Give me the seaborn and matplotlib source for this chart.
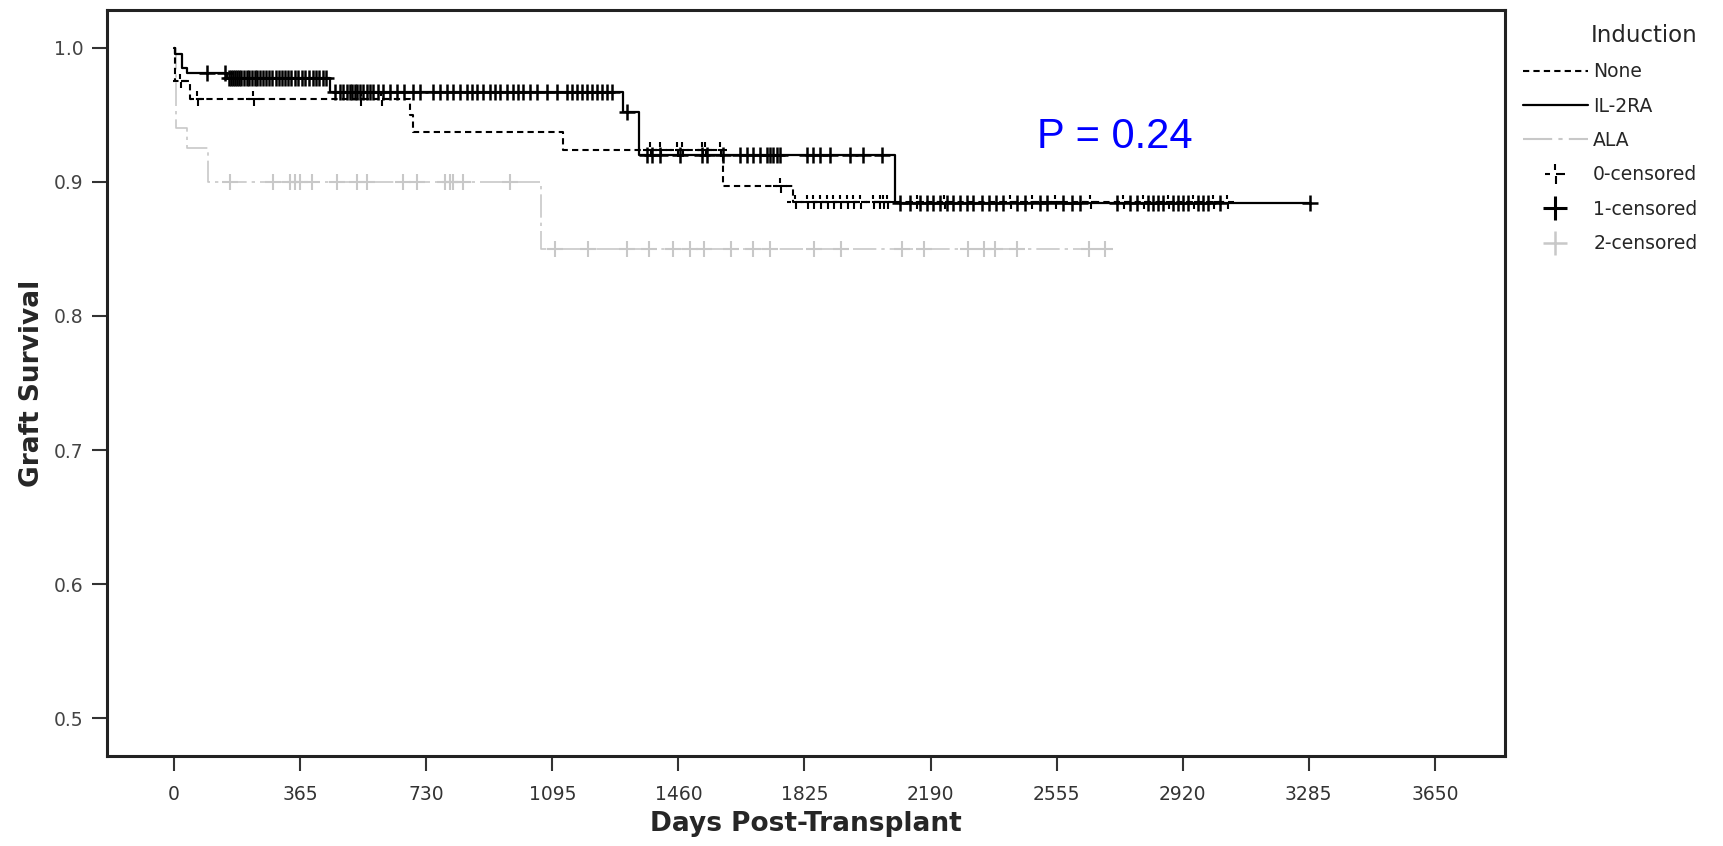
import numpy as np
import pandas as pd
import matplotlib.pyplot as plt
from matplotlib.lines import Line2D
from matplotlib.path import Path
import seaborn as sns

# Kaplan-Meier steps per induction group (day of event, survival after event)
none_days = [0, 2, 46, 683, 693, 1125, 1590, 1792]
none_surv = [1.0, 0.975, 0.962, 0.950, 0.937, 0.924, 0.897, 0.885]

il2_days = [0, 4, 23, 38, 153, 451, 1300, 1345, 2087]
il2_surv = [1.0, 0.995, 0.985, 0.981, 0.977, 0.967, 0.952, 0.920, 0.884]

ala_days = [0, 6, 38, 98, 1062]
ala_surv = [1.0, 0.940, 0.925, 0.900, 0.850]

# censored observations (days)
none_cens = [17, 66, 229, 540, 600, 1378, 1407, 1456, 1470, 1528, 1537, 1580, 1754,
             1797, 1832, 1850, 1870, 1890, 1907, 1928, 1948, 1965, 1986, 2023, 2043,
             2052, 2064, 2150, 2230, 2420, 2483, 2550, 2651, 2747, 2805, 2877, 2950,
             3008, 3048]
il2_cens = [95, 148,
            160, 165, 170, 176, 182, 188, 195, 202, 210, 218, 226, 233, 240, 250, 258,
            266, 275, 285, 295, 305, 312, 320, 330, 340, 350, 360, 370, 380, 392, 402,
            412, 420, 430, 440,
            465, 480, 490, 500, 509, 516, 524, 531, 538, 548, 559, 567, 576, 590, 605,
            625, 645, 665, 692, 712, 750, 770, 790, 808, 828, 848, 863, 877, 894, 915,
            929, 944, 964, 981, 996, 1010, 1030, 1051, 1080, 1109, 1138, 1152, 1167,
            1181, 1196, 1210, 1225, 1239, 1254, 1268,
            1310,
            1369, 1383, 1407, 1465, 1528, 1542, 1589, 1638, 1658, 1675, 1696, 1716,
            1725, 1734, 1746, 1754, 1832, 1850, 1870, 1899, 1957, 1994, 2049,
            2101, 2130, 2159, 2179, 2197, 2217, 2237, 2255, 2275, 2295, 2313, 2340,
            2360, 2380, 2400, 2440, 2463, 2507, 2527, 2573, 2600, 2622, 2729, 2767,
            2787, 2819, 2834, 2848, 2863, 2892, 2906, 2921, 2935, 2964, 2979, 2993,
            3028, 3288]
ala_cens = [162, 287, 336, 350, 365, 399, 472, 530, 559, 663, 703, 784, 799, 808, 837,
            972, 1103, 1198, 1311, 1375, 1444, 1494, 1534, 1612, 1676, 1725, 1852, 1931,
            2107, 2171, 2298, 2345, 2376, 2440, 2648, 2695]

p_text = "P = 0.24"
x_ticks = list(range(0, 3651, 365))
y_ticks = [0.5, 0.6, 0.7, 0.8, 0.9, 1.0]

GRAY = "#c8c8c8"
order = ["ALA", "None", "IL-2RA"]
palette = {"None": "black", "IL-2RA": "black", "ALA": GRAY}
dashes = {"None": (3, 2), "IL-2RA": "", "ALA": (14, 3, 2, 3)}

# broken plus, like the dashed censor ticks of the "None" curve
broken_plus = Path([(-1, 0), (-0.45, 0), (0.1, 0), (1, 0),
                    (0, 1), (0, 0.35), (0.1, -0.15), (0.1, -1)],
                   [Path.MOVETO, Path.LINETO] * 4)


def curve(name, days, surv, cens):
    t = list(days) + [max(cens)]
    s = list(surv) + [surv[-1]]
    return pd.DataFrame({"group": name, "day": t, "surv": s})


def censored(name, days, surv, cens):
    idx = np.searchsorted(days, cens, side="right") - 1
    return pd.DataFrame({"group": name, "day": cens, "surv": np.array(surv)[idx]})


curves = pd.concat([curve("ALA", ala_days, ala_surv, ala_cens),
                    curve("None", none_days, none_surv, none_cens),
                    curve("IL-2RA", il2_days, il2_surv, il2_cens)])

sns.set_style("white")
fig = plt.figure(figsize=(17.24, 8.46), dpi=100)
ax = fig.add_axes([107 / 1724, 1 - 756 / 846, (1505 - 107) / 1724, (756 - 10) / 846])

sns.lineplot(data=curves, x="day", y="surv", hue="group", style="group", size="group",
             hue_order=order, style_order=order, size_order=order,
             palette=palette, dashes=dashes,
             sizes={"None": 1.5, "IL-2RA": 1.6, "ALA": 1.2},
             drawstyle="steps-post", estimator=None, sort=False, legend=False, ax=ax)

sns.scatterplot(data=censored("ALA", ala_days, ala_surv, ala_cens), x="day", y="surv",
                color=GRAY, marker="+", s=120, linewidth=1.5, zorder=3, ax=ax)
sns.scatterplot(data=censored("None", none_days, none_surv, none_cens), x="day", y="surv",
                marker=broken_plus, s=110, facecolor="none", edgecolor="black",
                linewidth=1.5, zorder=3, ax=ax)
sns.scatterplot(data=censored("IL-2RA", il2_days, il2_surv, il2_cens), x="day", y="surv",
                color="black", marker="+", s=120, linewidth=1.8, zorder=4, ax=ax)

ax.set_xlim(-194, 3853)
ax.set_ylim(0.472, 1.028)
ax.set_xticks(x_ticks)
ax.set_xticklabels([str(v) for v in x_ticks],
                   family=["Liberation Sans Narrow", "DejaVu Sans Condensed",
                           "Noto Sans Condensed", "DejaVu Sans"],
                   fontsize=13.5, color="#333333")
ax.set_yticks(y_ticks)
ax.set_yticklabels([f"{v:.1f}" for v in y_ticks], family="DejaVu Sans",
                   fontsize=13.5, color="#444444")
ax.tick_params(axis="both", direction="out", length=11, width=1.5, color="#333333",
               bottom=True, left=True, pad=6)
ax.tick_params(axis="x", pad=10)
for sp in ax.spines.values():
    sp.set_linewidth(2.2)
    sp.set_color("#222222")

ax.set_xlabel("Days Post-Transplant", family="DejaVu Sans",
              fontweight="bold", fontsize=19, labelpad=5)
ax.set_ylabel("Graft Survival", family="DejaVu Sans",
              fontweight="bold", fontsize=19, labelpad=6)

ax.text(2498, 0.9255, p_text, color="#0000ff", fontsize=30, family="Liberation Sans",
        ha="left", va="baseline")

handles = [
    Line2D([], [], color="black", lw=1.5, dashes=(3, 2)),
    Line2D([], [], color="black", lw=1.6),
    Line2D([], [], color=GRAY, lw=1.5, dashes=(14, 3, 2, 3)),
    Line2D([], [], color="black", lw=0, marker=broken_plus, markersize=15, mew=1.5),
    Line2D([], [], color="black", lw=0, marker="+", markersize=17, mew=2.2),
    Line2D([], [], color=GRAY, lw=0, marker="+", markersize=17, mew=1.8),
]
labels = ["None", "IL-2RA", "ALA", "0-censored", "1-censored", "2-censored"]
leg = fig.legend(handles, labels, title="Induction", loc="upper left",
                 bbox_to_anchor=(1506 / 1724, 1 - 7 / 846), frameon=False,
                 handlelength=3.45, handletextpad=0.3, labelspacing=0.82,
                 alignment="right",
                 prop={"family": "DejaVu Sans", "size": 13.5},
                 title_fontproperties={"family": "DejaVu Sans", "size": 16.5})

fig.savefig("out.png", dpi=100)
